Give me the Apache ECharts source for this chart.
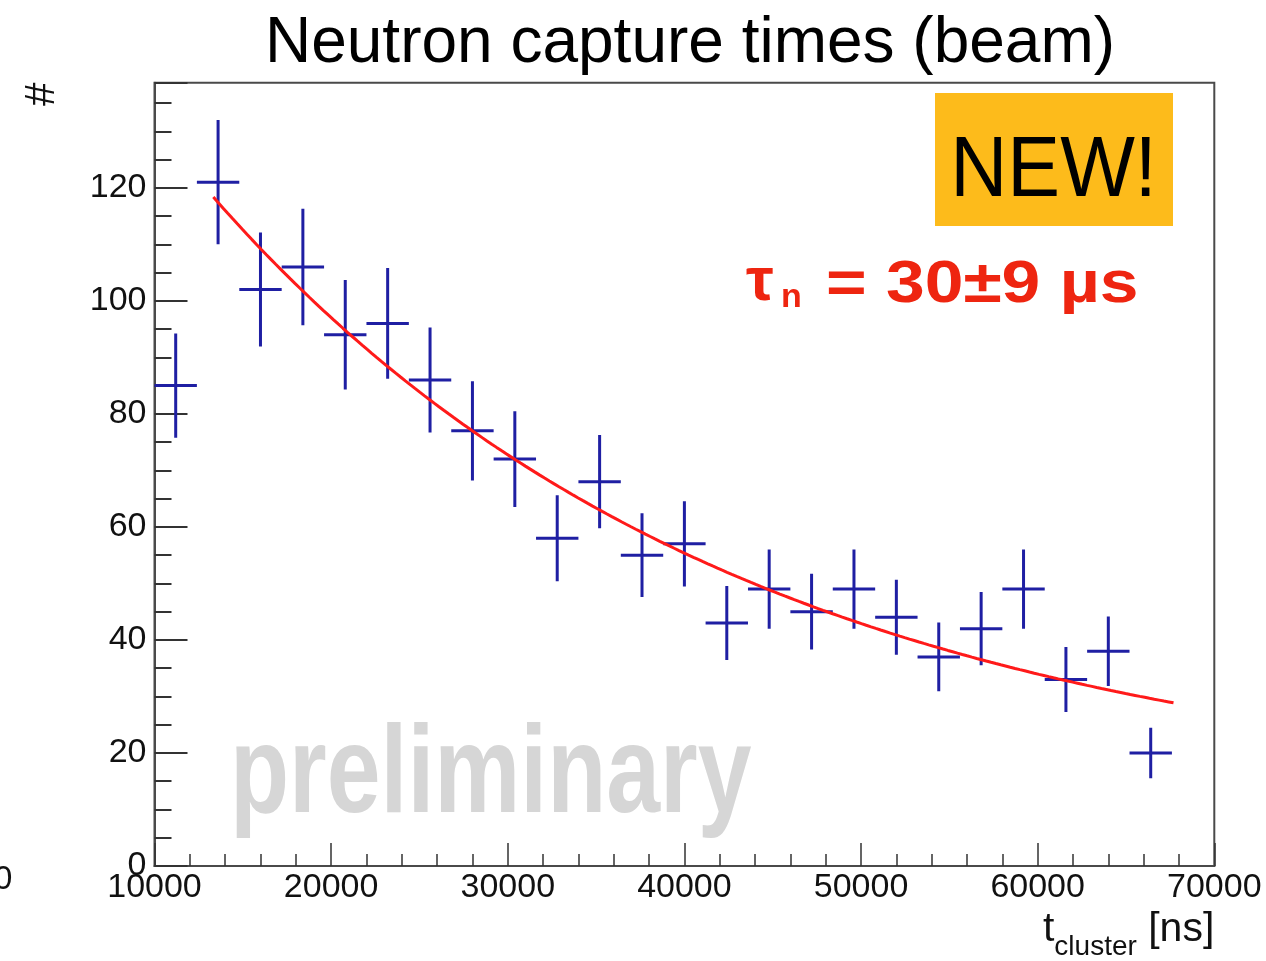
<!DOCTYPE html>
<html>
<head>
<meta charset="utf-8">
<script src="https://cdn.jsdelivr.net/npm/echarts@6/dist/echarts.min.js"></script>
<style>
  html, body { margin: 0; padding: 0; background: #ffffff; }
  #chart { width: 1266px; height: 961px; }
</style>
</head>
<body>
<div id="chart"></div>
<script>
// Histogram of cluster times: bin centres (ns) and counts per 2400 ns bin
const binCenters = [11200, 13600, 16000, 18400, 20800, 23200, 25600, 28000,
                    30400, 32800, 35200, 37600, 40000, 42400, 44800, 47200,
                    49600, 52000, 54400, 56800, 59200, 61600, 64000, 66400];
const counts = [85, 121, 102, 106, 94, 96, 86, 77,
                72, 58, 68, 55, 57, 43, 49, 45,
                49, 44, 37, 42, 49, 33, 38, 20];
const binHalfWidth = 1200;

// Exponential fit: A * exp(-t / tau) + C
const fitTau = 30000;
const fitAmp = 166.8;
const fitConst = 11.4;
const fitRange = [13330, 67690];

// Axis ranges and tick spacing
const xRange = [10000, 70000];
const xMajor = 10000, xMinor = 2000;
const yRange = [0, 138.6];
const yMajor = 20, yMinor = 5;

const titleText = 'Neutron capture times (beam)';
const yTitle = '#';
const tauLabel = '= 30±9 µs';

const FONT = "'Liberation Sans', Arial, Helvetica, sans-serif";

// Points with Poisson uncertainties
const histData = binCenters.map((c, i) => [c, counts[i], Math.sqrt(counts[i])]);

// Sampled fit curve
const fitData = [];
const nFit = 200;
for (let k = 0; k <= nFit; k++) {
  const t = fitRange[0] + (fitRange[1] - fitRange[0]) * k / nFit;
  fitData.push([t, fitAmp * Math.exp(-t / fitTau) + fitConst]);
}

const chart = echarts.init(document.getElementById('chart'), null, { renderer: 'canvas' });

const frameColor = '#4a4a4a';
const tickColor = '#333333';

const option = {
  animation: false,
  backgroundColor: '#ffffff',
  title: {
    text: titleText,
    left: 685,
    top: 7,
    textAlign: 'center',
    textStyle: { fontFamily: FONT, fontSize: 64, fontWeight: 'normal', color: '#000000' }
  },
  grid: {
    left: 154.5, right: 51.7, top: 82.7, bottom: 94.3,
    show: true, borderColor: frameColor, borderWidth: 2, backgroundColor: 'transparent'
  },
  xAxis: [
    {
      type: 'value', min: xRange[0], max: xRange[1], interval: xMajor,
      position: 'bottom',
      axisLine: { show: true, lineStyle: { color: frameColor, width: 2 } },
      axisTick: { show: true, inside: true, length: 23, lineStyle: { color: tickColor, width: 1.5 } },
      axisLabel: {
        show: true, margin: 5, fontFamily: FONT, fontSize: 34, color: '#111111',
        formatter: v => String(v)
      },
      splitLine: { show: false },
      name: '{t|t}{s|cluster}{u| [ns]}',
      nameLocation: 'end',
      nameGap: 0,
      nameTextStyle: {
        align: 'right', verticalAlign: 'top', padding: [43, 0, 0, 0],
        rich: {
          t: { fontFamily: FONT, fontSize: 41, lineHeight: 42, verticalAlign: 'top', color: '#111111' },
          s: { fontFamily: FONT, fontSize: 28, lineHeight: 28, verticalAlign: 'top', padding: [24, 0, 0, 0], color: '#111111' },
          u: { fontFamily: FONT, fontSize: 41, lineHeight: 42, verticalAlign: 'top', color: '#111111' }
        }
      }
    },
    {
      type: 'value', min: xRange[0], max: xRange[1], interval: xMinor,
      position: 'bottom',
      axisLine: { show: false },
      axisTick: { show: true, inside: true, length: 12, lineStyle: { color: tickColor, width: 1.5 } },
      axisLabel: { show: false },
      splitLine: { show: false }
    }
  ],
  yAxis: [
    {
      type: 'value', min: yRange[0], max: yRange[1], interval: yMajor,
      position: 'left',
      axisLine: { show: true, lineStyle: { color: frameColor, width: 2 } },
      axisTick: { show: true, inside: true, length: 33, lineStyle: { color: tickColor, width: 2 } },
      axisLabel: {
        show: true, margin: 8, fontFamily: FONT, fontSize: 34, color: '#111111',
        formatter: v => (Math.abs(v % yMajor) < 1e-6 ? String(v) : '')
      },
      splitLine: { show: false },
      name: yTitle,
      nameLocation: 'end',
      nameGap: 0,
      nameRotate: 90,
      nameTextStyle: {
        fontFamily: FONT, fontSize: 42, color: '#111111',
        align: 'right', verticalAlign: 'bottom', padding: [0, 0, 91, 0]
      }
    },
    {
      type: 'value', min: yRange[0], max: yRange[1], interval: yMinor,
      position: 'left',
      axisLine: { show: false },
      axisTick: { show: true, inside: true, length: 17, lineStyle: { color: tickColor, width: 2 } },
      axisLabel: { show: false },
      splitLine: { show: false }
    }
  ],
  series: [
    {
      name: 'counts',
      type: 'custom',
      xAxisIndex: 0, yAxisIndex: 0,
      clip: true,
      z: 2,
      data: histData,
      renderItem: function (params, api) {
        const x = api.value(0), y = api.value(1), e = api.value(2);
        const left = api.coord([x - binHalfWidth, y]);
        const right = api.coord([x + binHalfWidth, y]);
        const top = api.coord([x, y + e]);
        const bottom = api.coord([x, y - e]);
        const style = { stroke: '#1f1fa3', lineWidth: 3, fill: null };
        return {
          type: 'group',
          children: [
            { type: 'line', shape: { x1: left[0], y1: left[1], x2: right[0], y2: right[1] }, style: style },
            { type: 'line', shape: { x1: top[0], y1: top[1], x2: bottom[0], y2: bottom[1] }, style: style }
          ]
        };
      }
    },
    {
      name: 'fit',
      type: 'line',
      xAxisIndex: 0, yAxisIndex: 0,
      data: fitData,
      showSymbol: false,
      z: 3,
      lineStyle: { color: '#ff1a1a', width: 3 }
    }
  ],
  graphic: [
    {
      type: 'text', x: 230, y: 778, z: 1, silent: true,
      scaleX: 0.78,
      style: { text: 'preliminary', fontFamily: FONT, fontSize: 124, fontWeight: 'bold',
               fill: '#d6d6d6', align: 'left', verticalAlign: 'middle' }
    },
    {
      type: 'rect', z: 10, silent: true,
      shape: { x: 935, y: 93, width: 238, height: 133 },
      style: { fill: '#fdbb1b' }
    },
    {
      type: 'text', x: 1053.5, y: 172, z: 11, silent: true,
      scaleX: 0.92,
      style: { text: 'NEW!', fontFamily: FONT, fontSize: 86, fill: '#000000',
               align: 'center', verticalAlign: 'middle' }
    },
    {
      type: 'text', x: 746, y: 283, z: 11, silent: true,
      style: { text: 'τ', fontFamily: FONT, fontSize: 62, fontWeight: 'bold', fill: '#ee2510',
               align: 'left', verticalAlign: 'middle' }
    },
    {
      type: 'text', x: 781, y: 298, z: 11, silent: true,
      style: { text: 'n', fontFamily: FONT, fontSize: 34, fontWeight: 'bold', fill: '#ee2510',
               align: 'left', verticalAlign: 'middle' }
    },
    {
      type: 'text', x: 826, y: 285, z: 11, silent: true,
      scaleX: 1.16,
      style: { text: tauLabel, fontFamily: FONT, fontSize: 60, fontWeight: 'bold', fill: '#ee2510',
               align: 'left', verticalAlign: 'middle' }
    },
    {
      type: 'text', x: -6, y: 880, z: 11, silent: true,
      style: { text: '0', fontFamily: FONT, fontSize: 33, fill: '#111111',
               align: 'left', verticalAlign: 'middle' }
    }
  ]
};

chart.setOption(option);
</script>
</body>
</html>
